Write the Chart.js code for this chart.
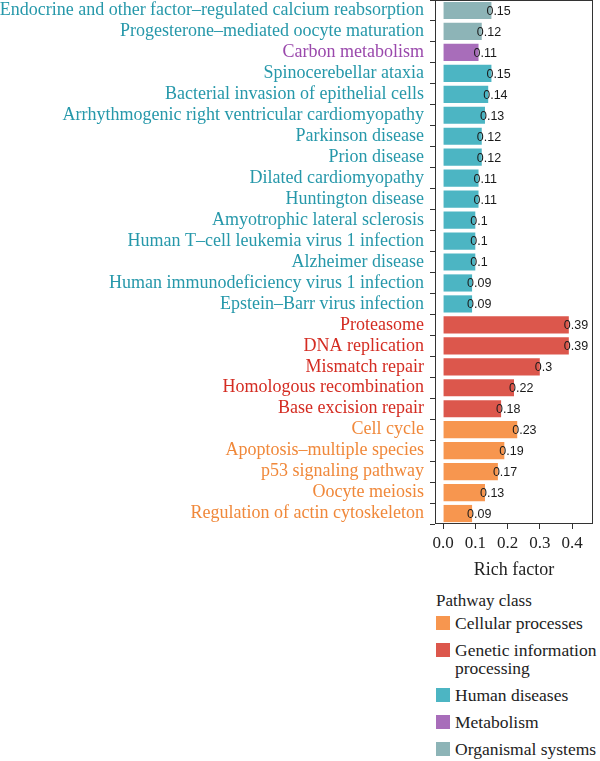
<!DOCTYPE html>
<html>
<head>
<meta charset="utf-8">
<script src="https://cdn.jsdelivr.net/npm/chart.js@4"></script>
<style>
  html, body { margin: 0; padding: 0; background: #fff; }
  #wrap { position: relative; width: 600px; height: 761px; }
  #chartBox { position: absolute; left: 0; top: 0; width: 600px; height: 585px; }
  #legend { position: absolute; left: 436px; top: 592px; font-family: "Liberation Serif", serif; font-size: 17.5px; color: #222; }
  #legend .title { height: 18px; line-height: 18px; margin-bottom: 4px; font-size: 17px; }
  #legend .item { display: flex; align-items: flex-start; margin-bottom: 9px; line-height: 18px; }
  #legend .sw { width: 14px; height: 14px; margin-right: 5px; flex: none; margin-top: 2px; }
</style>
</head>
<body>
<div id="wrap">
  <div id="chartBox"><canvas id="c"></canvas></div>
  <div id="legend"></div>
</div>
<script>
const categories = [
  "Endocrine and other factor\u2013regulated calcium reabsorption",
  "Progesterone\u2013mediated oocyte maturation",
  "Carbon metabolism",
  "Spinocerebellar ataxia",
  "Bacterial invasion of epithelial cells",
  "Arrhythmogenic right ventricular cardiomyopathy",
  "Parkinson disease",
  "Prion disease",
  "Dilated cardiomyopathy",
  "Huntington disease",
  "Amyotrophic lateral sclerosis",
  "Human T\u2013cell leukemia virus 1 infection",
  "Alzheimer disease",
  "Human immunodeficiency virus 1 infection",
  "Epstein\u2013Barr virus infection",
  "Proteasome",
  "DNA replication",
  "Mismatch repair",
  "Homologous recombination",
  "Base excision repair",
  "Cell cycle",
  "Apoptosis\u2013multiple species",
  "p53 signaling pathway",
  "Oocyte meiosis",
  "Regulation of actin cytoskeleton"
];
const richFactor = [0.15, 0.12, 0.11, 0.15, 0.14, 0.13, 0.12, 0.12, 0.11, 0.11, 0.1, 0.1, 0.1, 0.09, 0.09,
                    0.39, 0.39, 0.3, 0.22, 0.18, 0.23, 0.19, 0.17, 0.13, 0.09];
const pathwayClass = ["Organismal systems", "Organismal systems", "Metabolism",
  "Human diseases", "Human diseases", "Human diseases", "Human diseases", "Human diseases", "Human diseases",
  "Human diseases", "Human diseases", "Human diseases", "Human diseases", "Human diseases", "Human diseases",
  "Genetic information processing", "Genetic information processing", "Genetic information processing",
  "Genetic information processing", "Genetic information processing",
  "Cellular processes", "Cellular processes", "Cellular processes", "Cellular processes", "Cellular processes"];
const classNames = ["Cellular processes", "Genetic information processing", "Human diseases", "Metabolism", "Organismal systems"];
const legendLabels = ["Cellular processes", "Genetic information<br>processing", "Human diseases", "Metabolism", "Organismal systems"];
const xTickValues = [0.0, 0.1, 0.2, 0.3, 0.4];

const barColors = {
  "Cellular processes": "#F7964F",
  "Genetic information processing": "#DC574C",
  "Human diseases": "#4CB5C3",
  "Metabolism": "#A86DBA",
  "Organismal systems": "#8DB4B7"
};
const textColors = {
  "Cellular processes": "#F0883A",
  "Genetic information processing": "#D42C22",
  "Human diseases": "#2698AA",
  "Metabolism": "#9A48AC",
  "Organismal systems": "#2698AA"
};

const valueLabels = {
  id: 'valueLabels',
  afterDatasetsDraw(chart) {
    const ctx = chart.ctx;
    const meta = chart.getDatasetMeta(0);
    ctx.save();
    ctx.font = '12.5px "Liberation Sans", Arial, sans-serif';
    ctx.fillStyle = '#1a1a1a';
    ctx.textAlign = 'left';
    ctx.textBaseline = 'middle';
    meta.data.forEach((el, i) => {
      ctx.fillText(String(richFactor[i]), el.x - 5, el.y + 1);
    });
    ctx.restore();
  }
};
const frame = {
  id: 'frame',
  afterDraw(chart) {
    const a = chart.chartArea, ctx = chart.ctx;
    ctx.save();
    ctx.strokeStyle = '#333';
    ctx.lineWidth = 1;
    ctx.strokeRect(Math.round(a.left) + 0.5, Math.round(a.top) + 0.5, Math.round(a.right - a.left) - 1, Math.round(a.bottom - a.top) - 1);
    ctx.restore();
  }
};

new Chart(document.getElementById('c'), {
  type: 'bar',
  data: {
    labels: categories,
    datasets: [{
      data: richFactor,
      backgroundColor: pathwayClass.map(c => barColors[c]),
      borderWidth: 0,
      barPercentage: 0.82,
      categoryPercentage: 1.0
    }]
  },
  options: {
    indexAxis: 'y',
    responsive: true,
    maintainAspectRatio: false,
    animation: false,
    layout: { padding: { top: 0, right: 7, bottom: 4, left: 0 } },
    plugins: { legend: { display: false }, tooltip: { enabled: false } },
    scales: {
      y: {
        afterFit(scale) { scale.width = 435; scale.paddingTop = 0; scale.paddingBottom = 0; },
        border: { display: false },
        grid: { drawOnChartArea: false, drawTicks: true, tickLength: 5, color: '#333' },
        ticks: {
          autoSkip: false,
          padding: 6,
          font: { family: '"Liberation Serif", serif', size: 18 },
          color: (ctx) => textColors[pathwayClass[ctx.index]]
        }
      },
      x: {
        min: -0.025,
        max: 0.465,
        afterBuildTicks(scale) { scale.ticks = xTickValues.map(v => ({ value: v })); },
        border: { display: false },
        grid: { drawOnChartArea: false, drawTicks: true, tickLength: 5, color: '#333' },
        ticks: {
          padding: 4,
          font: { family: '"Liberation Serif", serif', size: 17 },
          color: '#222',
          callback: (v) => Number(v).toFixed(1)
        },
        title: {
          display: true,
          text: 'Rich factor',
          font: { family: '"Liberation Serif", serif', size: 18 },
          color: '#222',
          padding: { top: 2, bottom: 0 }
        }
      }
    }
  },
  plugins: [valueLabels, frame]
});

const lg = document.getElementById('legend');
let html = '<div class="title">Pathway class</div>';
classNames.forEach((c, i) => {
  html += '<div class="item"><span class="sw" style="background:' + barColors[c] + '"></span><span>' + legendLabels[i] + '</span></div>';
});
lg.innerHTML = html;
</script>
</body>
</html>
